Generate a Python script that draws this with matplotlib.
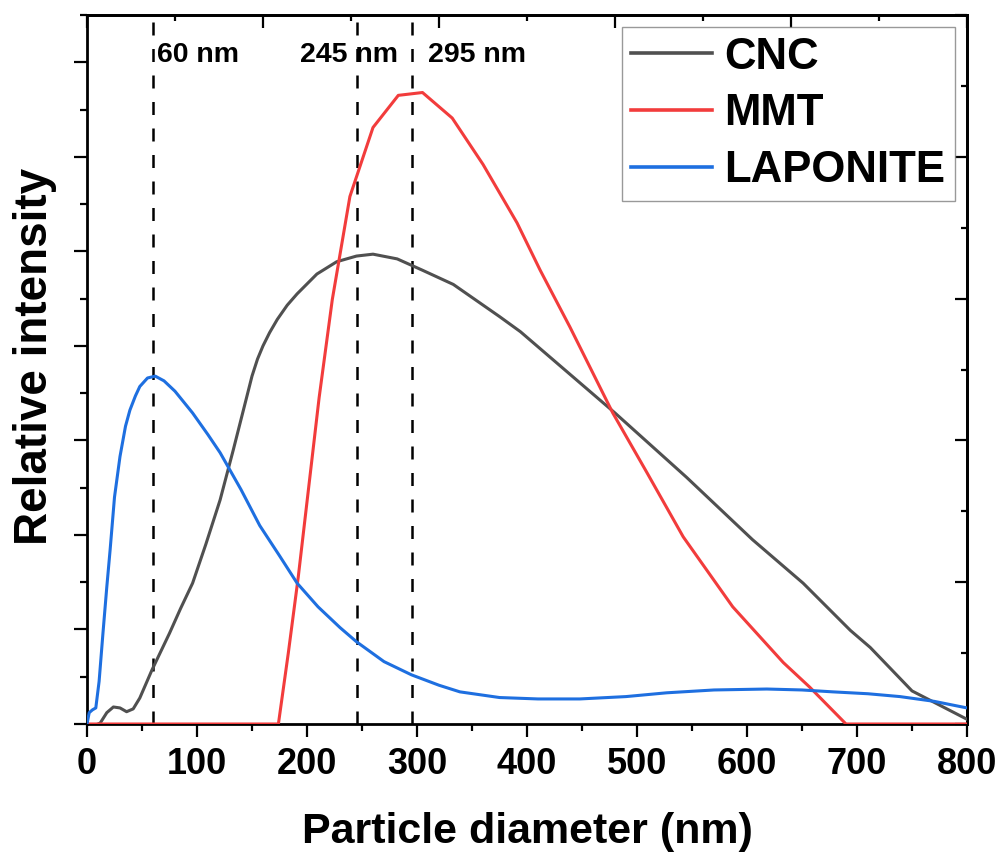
import matplotlib
matplotlib.use("Agg")
import matplotlib.pyplot as plt
from matplotlib.ticker import MultipleLocator, NullFormatter

# ---------------- data ----------------
cnc_x = [10, 12, 18, 24, 30, 36, 42, 48, 59, 75, 85, 96, 108, 121, 133, 145, 150, 155, 160,
         166, 173, 182, 191, 209, 227, 245, 260, 282, 305, 333, 375, 394, 480, 545, 605,
         651, 694, 712, 750, 800]
cnc_y = [0.0, 0.01, 0.12, 0.18, 0.17, 0.13, 0.16, 0.275, 0.57, 0.96, 1.22, 1.49, 1.90,
         2.37, 2.90, 3.45, 3.68, 3.86, 4.00, 4.14, 4.28, 4.43, 4.55, 4.76, 4.89, 4.95,
         4.97, 4.92, 4.80, 4.65, 4.31, 4.15, 3.29, 2.61, 1.95, 1.49, 0.99, 0.81, 0.35, 0.05]

mmt_x = [0, 174, 183, 192, 201, 211, 223, 239, 260, 283, 305, 332, 360, 391, 412, 439,
         478, 509, 542, 587, 633, 657, 690, 800]
mmt_y = [0.0, 0.0, 0.75, 1.55, 2.45, 3.45, 4.49, 5.58, 6.31, 6.65, 6.68, 6.41, 5.92, 5.30,
         4.80, 4.20, 3.29, 2.66, 1.98, 1.24, 0.65, 0.39, 0.0, 0.0]

lap_x = [0, 2, 5, 8, 11, 14.5, 18, 21, 25, 30, 35, 39, 44, 48, 55, 62, 70, 80, 96, 110,
         121, 140, 157, 175, 191, 210, 230, 245, 270, 295, 320, 339, 375, 410, 448, 490,
         527, 570, 618, 650, 678, 710, 739, 770, 800]
lap_y = [0.0, 0.12, 0.15, 0.17, 0.45, 0.96, 1.45, 1.84, 2.4, 2.83, 3.15, 3.32, 3.47, 3.57,
         3.66, 3.68, 3.63, 3.52, 3.29, 3.06, 2.87, 2.48, 2.10, 1.78, 1.49, 1.24, 1.02, 0.87,
         0.66, 0.52, 0.41, 0.34, 0.28, 0.265, 0.265, 0.29, 0.33, 0.36, 0.37, 0.36, 0.34,
         0.32, 0.29, 0.24, 0.17]

series_names = ["CNC", "MMT", "LAPONITE"]
series_colors = ["#505050", "#f23c3c", "#1e6fe0"]

marker_x = [60, 245, 295]
marker_labels = ["60 nm", "245 nm", "295 nm"]
marker_label_x = [63.6, 193.6, 310.0]

x_label = "Particle diameter (nm)"
y_label = "Relative intensity"

# ---------------- figure ----------------
plt.rcParams['font.family'] = ['Liberation Sans', 'DejaVu Sans']
plt.rcParams['font.weight'] = 'bold'

W, H = 1002, 852
fig = plt.figure(figsize=(W / 100, H / 100), dpi=100)
ax = fig.add_axes([87 / W, (H - 724) / H, 880 / W, 709 / H])

ax.set_xlim(0, 800)
ax.set_ylim(0, 7.5)

lw = 2.2
for xs, ys, name, col in zip([cnc_x, mmt_x, lap_x], [cnc_y, mmt_y, lap_y],
                             series_names, series_colors):
    ax.plot(xs, ys, color=col, lw=lw, label=name, solid_joinstyle='round', zorder=3)

for mx in marker_x:
    ax.plot([mx, mx], [7.43, 0], color='black', lw=1.8,
            linestyle=(0, (5.2, 5.4)), zorder=2)

for lx, txt in zip(marker_label_x, marker_labels):
    ax.text(lx, 7.0, txt, fontsize=20.5, fontweight='bold', va='baseline', ha='left',
            zorder=4)

# axes styling
for sp in ax.spines.values():
    sp.set_linewidth(2.0)
    sp.set_color('black')

ax.xaxis.set_major_locator(MultipleLocator(100))
ax.xaxis.set_minor_locator(MultipleLocator(50))
ax.yaxis.set_major_locator(MultipleLocator(1))
ax.yaxis.set_minor_locator(MultipleLocator(0.5))
ax.yaxis.set_major_formatter(NullFormatter())
ax.tick_params(axis='both', which='major', direction='out', length=9.5, width=1.6,
               top=False, right=False)
ax.tick_params(axis='both', which='minor', direction='out', length=5, width=1.6,
               top=False, right=False)
ax.tick_params(axis='x', which='major', labelsize=26, pad=7)
for lab in ax.get_xticklabels():
    lab.set_fontweight('bold')

# top axis (own tick spacing)
secx = ax.secondary_xaxis('top')
secx.xaxis.set_major_locator(MultipleLocator(160))
secx.xaxis.set_minor_locator(MultipleLocator(80))
secx.xaxis.set_major_formatter(NullFormatter())
secx.tick_params(which='major', direction='in', length=9, width=1.6)
secx.tick_params(which='minor', direction='in', length=4.5, width=1.6)
secx.spines['top'].set_linewidth(2.0)

# right axis (own tick spacing)
secy = ax.secondary_yaxis('right', functions=(lambda v: v * 5 / 7.5, lambda v: v * 7.5 / 5))
secy.yaxis.set_major_locator(MultipleLocator(1))
secy.yaxis.set_minor_locator(MultipleLocator(0.5))
secy.yaxis.set_major_formatter(NullFormatter())
secy.tick_params(which='major', direction='in', length=9, width=1.6)
secy.tick_params(which='minor', direction='in', length=4.5, width=1.6)
secy.spines['right'].set_linewidth(2.0)

ax.set_xlabel(x_label, fontsize=31, fontweight='bold', labelpad=22)
ax.set_ylabel(y_label, fontsize=33, fontweight='bold')
ax.yaxis.set_label_coords(-0.034, 0.518)

leg = ax.legend(loc='upper right', bbox_to_anchor=((955 - 87) / 880, (724 - 27) / 709),
                borderaxespad=0, frameon=True, fancybox=False,
                handlelength=1.85, handletextpad=0.28, labelspacing=0.36, borderpad=0.22,
                prop={'weight': 'bold', 'size': 31.5})
leg.get_frame().set_edgecolor('#808080')
leg.get_frame().set_linewidth(1.0)
leg.set_zorder(5)
for lh in leg.get_lines():
    lh.set_linewidth(2.6)

fig.savefig("out.png", dpi=100)
